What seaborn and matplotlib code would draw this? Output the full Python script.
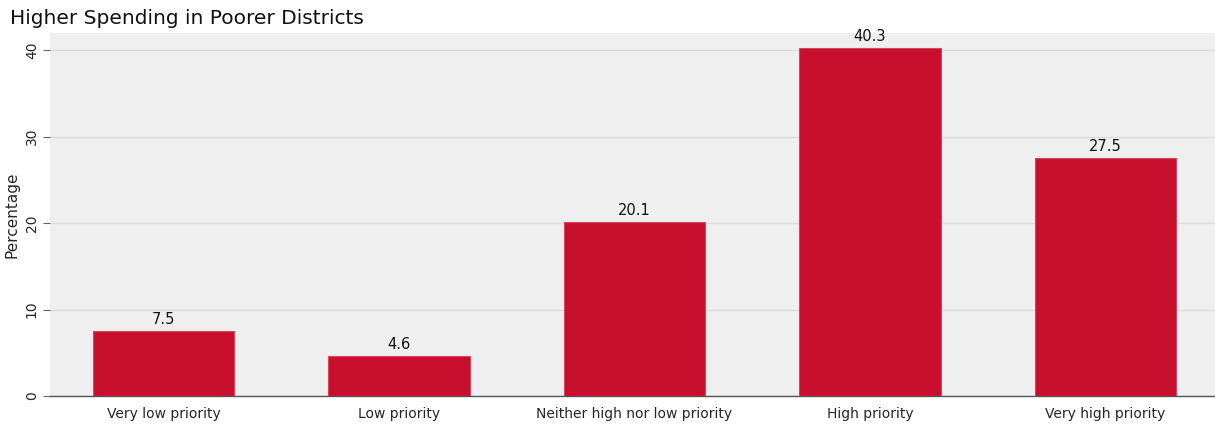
import matplotlib
matplotlib.use("Agg")
import matplotlib.pyplot as plt
import seaborn as sns
import pandas as pd

categories = ["Very low priority", "Low priority", "Neither high nor low priority",
              "High priority", "Very high priority"]
values = [7.5, 4.6, 20.1, 40.3, 27.5]
yticks = [0, 10, 20, 30, 40]
title = "Higher Spending in Poorer Districts"
ylabel = "Percentage"

sns.set_theme(style="white")
plt.rcParams['font.family'] = ['DejaVu Sans']

df = pd.DataFrame({"cat": categories, "val": values})

fig = plt.figure(figsize=(12.15, 4.24), dpi=100)
ax = fig.add_axes([50/1215, 28/424, 1 - 50/1215, (396-33)/424])
ax.set_facecolor("#efefef")

sns.barplot(data=df, x="cat", y="val", color="#c8102e", saturation=1,
            width=0.6, edgecolor="#d9455c", linewidth=0.8, ax=ax, zorder=3)

ax.set_xlim(-0.482, 4.465)
ax.set_ylim(0, 42)
ax.set_yticks(yticks)
ax.set_yticklabels([str(t) for t in yticks], rotation=90, va="center", fontsize=10)
ax.yaxis.grid(True, color="#dcdcdc", linewidth=1, zorder=0)
ax.set_axisbelow(True)
ax.tick_params(axis="y", left=True, length=5, width=0.8, color="#666666", pad=3)
ax.tick_params(axis="x", bottom=False, labelsize=10, pad=2)
for s in ["top", "right", "left"]:
    ax.spines[s].set_visible(False)
ax.spines["bottom"].set_color("#555555")
ax.spines["bottom"].set_linewidth(1)
ax.set_xlabel("")
ax.set_ylabel(ylabel, fontsize=11, labelpad=4)

for c in ax.containers:
    ax.bar_label(c, labels=[f"{v:.1f}" for v in values], padding=3, fontsize=10.5, color="#111111")

fig.text(10/1215, 1 - 19/424, title, fontsize=14.5, va="center", ha="left", color="#111111")

fig.savefig("out.png", dpi=100)
